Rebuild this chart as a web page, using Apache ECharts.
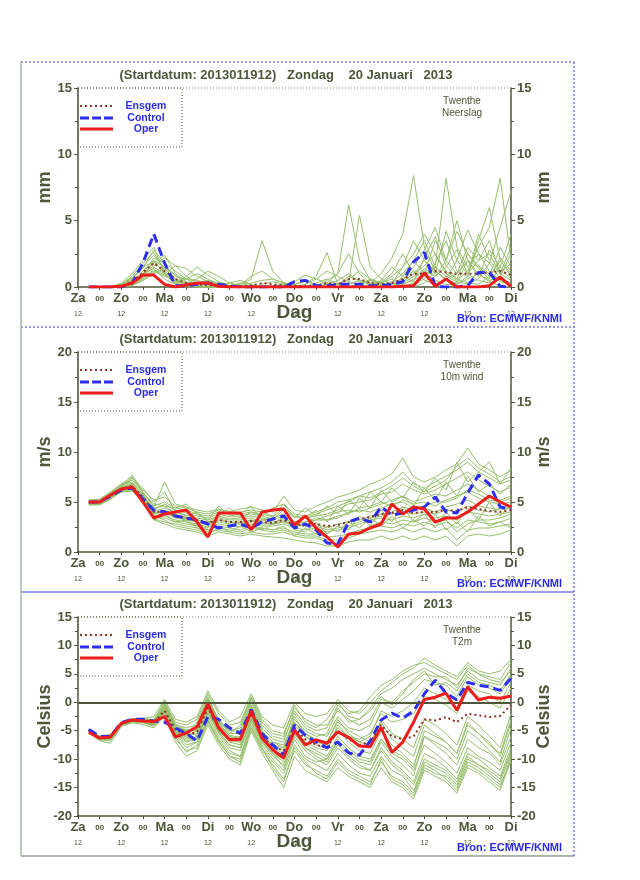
<!DOCTYPE html>
<html><head><meta charset="utf-8">
<script src="https://cdn.jsdelivr.net/npm/echarts@6/dist/echarts.min.js"></script>
<style>html,body{margin:0;padding:0;background:#fff}#c{width:640px;height:880px}</style>
</head><body><div id="c"></div>
<script>
// ---------------- DATA ----------------
const hours = [6,12,18,24,30,36,42,48,54,60,66,72,78,84,90,96,102,108,114,120,126,132,138,144,150,156,162,168,174,180,186,192,198,204,210,216,222,228,234,240];
const xTickLabels = ['Za','00','Zo','00','Ma','00','Di','00','Wo','00','Do','00','Vr','00','Za','00','Zo','00','Ma','00','Di'];
const titleText = '(Startdatum: 2013011912)   Zondag    20 Januari   2013';
const legendNames = ['Ensgem','Control','Oper'];
const sourceText = 'Bron: ECMWF/KNMI';

// Precipitation (mm)
const precipOper    = [0,0,0,0.05,0.3,0.9,0.9,0.2,0,0.15, 0.3,0.3,0.05,0,0,0,0,0,0,0, 0,0,0,0,0,0,0,0,0,0.05, 0.1,1.05,0.05,0.6,0,0,0,0.1,0.75,0.05];
const precipControl = [0,0,0,0,0.3,1.8,4.0,1.8,0.1,0.1, 0.2,0.3,0.2,0.1,0,0,0,0,0,0.4, 0.5,0.1,0.1,0.2,0.2,0.2,0.1,0.1,0.2,0.4, 1.9,2.6,0.05,0,0,0.1,1.1,1.1,0.05,0];
const precipEns     = [0,0,0,0.05,0.4,1.1,1.8,1.2,0.6,0.3, 0.2,0.15,0.1,0.05,0.05,0.1,0.3,0.2,0.1,0.1, 0.1,0.1,0.3,0.2,0.6,0.6,0.3,0.2,0.3,0.6, 1.0,1.0,1.2,1.1,1.0,1.0,1.0,1.1,1.2,0.9];
const precipMembers = [
 [0,0,0,0.2,0.8,1.8,2.6,1.2,0.4,0.2, 0.1,0,0,0,0.2,0.6,3.5,1.2,0.3,0.1, 0.1,0,0.2,0.5,1.0,0.4,0.2,0,0.3,1.5, 3.5,2.0,1.2,0.6,1.0,2.0,1.5,0.8,2.0,1.0],
 [0,0,0,0,0.3,1.2,2.0,1.5,0.8,0.6, 0.5,0.3,0.1,0,0,0,0,0.1,0.2,0.1, 0,0,0.5,1.0,6.2,2.0,0.5,0.2,0.4,1.0, 2.0,3.5,1.5,8.2,3.0,1.5,2.5,1.8,0.6,0.3],
 [0,0,0,0.1,0.5,1.0,1.6,2.2,1.6,0.8, 0.3,0.1,0,0,0.1,0.3,0.5,0.6,0.3,0.2, 0.5,0.2,0,0,0.3,5.4,1.5,0.6,0.2,0.4, 1.0,1.6,2.5,1.0,0.5,1.2,3.0,4.5,8.2,2.0],
 [0,0,0,0,0.2,0.6,1.2,0.8,0.5,0.3, 0.6,1.2,0.8,0.3,0.1,0,0,0,0,0, 0,0,0,0.2,0.8,0.5,0.3,1.0,2.2,4.0, 8.4,3.0,1.2,0.5,0.3,2.0,1.0,0.5,0.8,2.5],
 [0,0,0,0.2,0.6,1.4,2.8,1.8,0.5,0.2, 0,0,0,0,0.2,0.8,1.2,0.6,0.3,0.1, 0,0,0,0,0,0.2,0.6,0.3,0,0.5, 1.5,2.8,4.5,2.0,4.2,2.5,1.6,1.0,0.4,0.2],
 [0,0,0,0,0.1,0.8,1.5,1.0,1.6,1.4, 0.8,0.4,0.2,0.1,0,0,0,0,0.1,0.4, 0.9,0.6,1.2,0.8,0.4,0.2,0,0,0,0.3, 0.8,1.2,0.8,1.5,2.8,1.0,0.5,0.3,1.5,4.0],
 [0,0,0,0.1,0.4,0.9,1.8,2.4,1.0,0.4, 0.1,0,0,0,0,0,0,0,0,0, 0,0,0.3,1.0,2.5,1.0,0.3,0,0,0, 0.2,0.6,1.8,3.5,1.2,0.8,3.5,6.0,2.0,0.8],
 [0,0,0,0,0.2,0.8,2.0,1.0,0.3,0.6, 1.0,0.6,0.2,0,0,0,0.2,0.4,0.2,0, 0,0,0,0,0,0,0.1,0.3,0.8,1.5, 2.5,4.0,2.5,1.2,0.6,0.3,0.2,0.8,3.0,1.5],
 [0,0,0,0.3,1.0,2.0,3.0,1.0,0.2,0, 0,0,0,0.1,0.3,0.2,0,0,0,0, 0.2,0.8,2.6,0.2,0.6,1.2,0.6,0.3,0.6,0.2, 0.5,1.0,3.5,2.0,1.0,3.0,2.0,2.5,1.0,0.5],
 [0,0,0,0,0.2,0.5,1.0,1.4,0.6,0.2, 0,0,0.1,0.3,0.5,0.2,0,0,0,0, 0,0,0,0,0,0,0,0,0.3,0.6, 1.2,0.5,0.2,0.6,2.0,4.3,2.5,1.2,0.5,0.2],
 [0,0,0,0.1,0.6,1.6,2.4,1.4,0.6,0.2, 0,0,0,0,0,0,0,0,0,0.2, 0.4,0.2,0,0,0,0,0,0,0,0, 0.3,0.8,1.5,0.8,0.4,0.2,0.6,1.8,4.5,7.2],
 [0,0,0,0,0.3,1.0,1.4,0.6,0.2,0.1, 0.3,0.5,0.3,0.1,0,0,0,0,0,0, 0,0,0,0,0,0.3,0.5,0.2,0,0.8, 2.0,1.0,0.5,0.2,0.2,0.6,1.0,0.4,0.1,0],
 [0,0,0,0.1,0.4,1.0,2.2,1.8,1.2,0.6, 0.2,0,0,0,0,0,0,0,0,0, 0,0.3,0.6,0.2,0,0,0.2,0.4,1.0,2.5, 1.0,2.0,1.0,4.2,2.0,1.0,2.0,3.5,1.0,3.0],
 [0,0,0,0,0.2,0.7,1.3,0.9,0.4,0.8, 1.5,0.9,0.4,0.1,0,0,0,0,0,0, 0,0,0,0,0,0,0,0.5,1.5,0.8, 0.4,2.2,3.8,1.6,0.6,2.5,1.4,0.6,2.2,1.2],
 [0,0,0,0.2,0.7,1.5,1.9,1.1,0.3,0.1, 0,0,0,0,0,0,0,0,0,0, 0.2,0.6,0.3,0,0,0,0,0,0,0.2, 0.6,1.4,0.8,2.0,5.0,2.0,0.8,2.8,1.5,0.6],
 [0,0,0,0,0.1,0.5,1.1,1.6,0.9,0.3, 0,0,0,0,0,0,0,0,0,0, 0,0,0,0,0.2,0.5,0.3,0.1,0,0, 0,0.3,1.2,0.6,0.2,0.8,4.0,2.0,1.0,1.8]
];

// 10m wind (m/s)
const windOper    = [5.0,5.0,5.7,6.3,6.5,5.0,3.4,3.8,4.0,4.2, 3.0,1.5,3.9,3.9,3.9,2.2,4.0,4.2,4.3,2.7, 3.6,2.4,1.5,0.5,1.8,1.9,2.4,2.8,4.8,3.8, 4.5,4.3,3.0,3.4,3.4,4.0,4.8,5.6,5.0,4.5];
const windControl = [5.0,5.0,5.6,6.2,6.4,5.3,4.2,4.0,3.6,3.4, 3.2,2.8,2.4,2.6,2.8,2.4,3.0,3.3,3.6,2.4, 2.8,2.2,0.9,0.8,3.0,3.4,3.0,4.5,3.7,3.9, 4.2,4.5,5.5,4.0,3.9,5.9,7.7,6.8,4.5,4.3];
const windEns     = [5.0,5.0,5.6,6.3,6.6,5.5,4.0,4.1,3.6,3.4, 3.2,2.9,3.2,3.0,3.0,3.1,3.0,2.9,3.2,2.7, 2.8,2.8,2.6,2.7,3.0,3.3,3.5,3.8,3.9,4.2, 3.9,4.0,4.0,4.2,4.1,4.5,4.3,4.1,4.0,4.2];
const windMembers = [
 [5.0,5.1,5.8,6.6,7.7,6.0,4.5,7.0,4.8,4.5, 4.2,4.0,4.3,4.0,4.3,4.5,4.2,4.0,5.6,4.2, 4.0,4.6,5.0,5.5,5.8,6.2,6.8,7.2,7.8,9.4, 7.5,7.0,7.5,8.2,8.8,10.4,8.8,8.2,7.5,8.2],
 [4.7,4.7,5.3,6.0,6.1,5.0,3.2,2.8,2.4,2.2, 2.0,1.6,2.0,1.8,1.6,1.8,1.6,1.5,1.4,1.2, 1.0,0.9,0.6,0.6,1.0,1.2,1.2,1.6,1.2,1.6, 1.2,1.6,1.2,1.6,0.6,1.6,1.8,1.6,1.8,2.2],
 [4.9,5.0,5.6,6.3,6.6,5.6,4.0,4.0,3.6,3.5, 3.2,3.0,3.2,3.0,2.8,3.0,3.2,3.0,3.2,2.6, 2.6,2.8,2.4,2.8,3.0,3.2,3.6,3.8,4.0,4.5, 4.2,4.4,4.0,4.5,4.8,5.2,4.6,4.4,4.2,4.4],
 [5.1,5.2,5.9,6.7,7.0,5.8,4.2,4.8,4.2,3.9, 3.6,3.4,3.8,3.5,3.6,3.8,3.6,3.3,4.2,3.5, 3.4,3.6,3.8,4.2,4.8,5.0,5.2,5.8,6.0,6.8, 6.2,5.8,6.2,6.8,7.4,8.0,7.2,6.6,6.0,6.5],
 [4.8,4.8,5.4,6.1,6.3,5.2,3.5,3.4,3.0,2.8, 2.6,2.2,2.6,2.4,2.2,2.6,2.4,2.2,2.4,2.0, 1.8,1.8,1.5,1.6,1.8,2.2,2.4,2.6,2.4,2.8, 2.6,3.0,2.6,3.0,2.4,3.2,3.0,2.8,3.0,3.4],
 [5.0,5.1,5.7,6.4,6.8,5.5,3.8,4.2,3.8,3.4, 3.0,2.8,3.4,3.2,3.2,3.4,3.0,2.8,3.0,2.6, 2.8,3.2,3.6,4.0,4.2,4.0,4.4,4.8,5.2,5.6, 5.0,5.4,5.8,5.6,6.2,6.8,6.2,5.6,5.2,5.6],
 [4.9,4.9,5.5,6.2,6.5,5.4,3.7,3.6,3.2,3.0, 2.8,2.5,2.8,2.6,2.5,2.8,2.6,2.6,2.8,2.4, 2.2,2.4,2.0,2.2,2.4,2.8,3.2,3.4,3.2,3.6, 3.4,3.8,3.4,3.6,3.2,4.0,3.8,3.6,3.8,4.0],
 [5.2,5.3,6.0,6.8,7.2,6.2,5.2,5.5,4.6,4.4, 4.0,3.8,4.2,3.8,4.0,4.2,4.0,3.6,4.8,3.8, 3.6,4.0,4.4,5.0,5.2,5.6,6.0,6.4,7.0,8.0, 6.8,6.4,7.0,7.6,8.2,9.0,8.0,7.4,6.8,7.2],
 [4.8,4.9,5.4,6.0,6.2,5.0,3.3,3.0,2.8,2.6, 2.4,2.0,2.2,2.0,1.8,2.0,1.8,1.8,2.0,1.6, 1.4,1.4,1.0,0.8,1.4,1.8,2.0,2.2,2.0,2.4, 2.0,2.4,2.0,2.4,1.2,2.2,2.4,2.4,2.6,2.8],
 [5.0,5.0,5.7,6.5,6.9,5.7,4.1,4.4,4.0,3.7, 3.4,3.2,3.6,3.3,3.4,3.6,3.4,3.2,3.6,3.0, 3.0,3.2,3.2,3.6,3.8,4.4,4.6,5.0,4.6,5.2, 4.8,5.0,4.6,5.2,5.6,6.0,5.4,5.0,4.8,5.0],
 [4.9,5.0,5.6,6.4,6.7,5.6,3.9,3.9,3.4,3.2, 3.0,2.7,3.0,2.8,2.8,3.2,3.0,2.8,3.4,2.8, 2.6,2.6,2.2,2.4,2.6,3.0,3.4,3.6,3.8,4.0, 3.8,4.0,3.8,4.2,4.0,4.6,4.2,4.0,4.4,4.6],
 [5.1,5.2,5.8,6.6,7.2,6.0,4.6,5.0,4.4,4.2, 3.8,3.6,4.0,3.8,3.8,4.0,3.8,3.5,4.4,3.6, 3.4,3.8,4.2,4.6,5.0,5.6,5.4,6.0,6.6,7.4, 6.6,6.0,6.6,7.2,8.6,9.4,8.4,7.8,7.0,7.6],
 [4.8,4.8,5.3,6.1,6.4,5.3,3.6,3.2,2.6,2.4, 2.2,1.8,2.4,2.2,2.0,2.4,2.2,2.0,2.2,1.8, 1.6,1.6,1.2,1.2,1.6,2.0,2.6,3.0,2.8,3.2, 3.0,3.4,3.0,3.2,2.0,2.8,3.2,3.2,3.4,3.8],
 [5.0,5.1,5.6,6.4,6.6,5.4,4.0,3.8,3.6,3.3, 3.2,2.9,3.2,3.0,3.0,3.2,2.8,2.8,3.0,2.8, 3.0,3.4,3.2,3.4,4.0,4.2,4.0,4.4,4.8,5.0, 4.4,4.6,5.0,5.0,5.4,6.2,5.8,5.2,5.0,5.4],
 [5.0,5.0,5.6,6.5,7.4,6.4,5.0,6.0,4.0,3.6, 4.0,3.0,3.6,4.4,3.4,4.0,3.6,4.4,4.8,3.4, 4.4,3.6,4.6,3.8,5.2,4.4,6.0,5.0,6.4,5.4, 7.0,6.0,7.4,6.2,9.0,7.0,8.0,9.0,6.8,8.4],
 [4.9,5.0,5.5,6.2,6.3,5.6,4.4,4.6,3.8,3.0, 2.6,2.4,3.6,2.6,3.0,2.6,2.2,2.8,3.6,2.2, 2.0,3.0,1.8,2.6,2.2,3.6,2.6,4.2,3.0,4.6, 3.0,3.8,2.4,4.0,2.8,4.4,3.2,5.0,3.6,4.8],
 [5.1,5.1,5.9,6.8,7.5,5.9,4.8,4.6,4.4,4.8, 3.8,3.2,4.6,3.6,3.8,4.6,3.2,3.4,3.8,3.0, 3.4,4.2,3.0,4.6,3.8,5.4,4.4,6.2,5.0,5.6, 4.6,6.4,5.2,7.0,5.6,7.6,6.0,6.8,5.8,6.8],
 [4.8,4.8,5.5,6.1,6.5,5.2,3.6,3.8,3.0,3.2, 2.4,2.2,2.6,2.0,2.6,2.0,2.4,2.2,2.6,1.6, 2.4,1.8,2.6,2.0,3.0,2.4,3.4,2.6,3.6,2.4, 3.2,2.6,3.8,2.2,3.0,2.0,3.6,2.6,3.0,2.4]
];

// 2m temperature (Celsius)
const tempOper    = [-5.3,-6.3,-6.1,-3.7,-3.1,-3.3,-3.4,-2.5,-6.1,-5.4, -4.3,-0.3,-4.5,-6.6,-6.5,-1.5,-6.3,-8.4,-9.8,-4.9, -7.5,-6.6,-7.2,-5.2,-6.2,-7.7,-7.8,-4.4,-8.8,-7.0, -3.5,0.5,0.9,1.6,-1.4,2.7,0.4,0.9,0.7,1.1];
const tempControl = [-4.8,-6.0,-6.0,-3.6,-3.0,-3.0,-3.3,-3.5,-4.5,-5.5, -6.8,-2.5,-3.0,-4.5,-5.5,-1.3,-5.5,-7.5,-9.3,-4.0, -5.8,-7.0,-8.0,-7.0,-8.9,-9.3,-6.8,-3.1,-1.9,-2.8, -1.5,1.5,3.9,1.6,0.4,3.5,3.0,2.7,2.1,4.2];
const tempEns     = [-5.0,-6.2,-6.1,-3.8,-3.2,-3.2,-3.6,-1.5,-4.8,-5.8, -5.2,-1.0,-4.5,-6.5,-6.5,-2.0,-6.0,-7.8,-8.5,-4.5, -6.5,-7.5,-8.0,-5.0,-6.5,-7.5,-7.0,-4.0,-6.0,-6.5, -6.0,-3.0,-3.2,-2.6,-3.5,-2.0,-2.3,-2.6,-2.4,-0.5];
const tempMembers = [
 [-4.8,-6.0,-5.6,-3.4,-2.9,-2.8,-2.5,0.5,-3.0,-3.5, -2.5,2.0,-1.5,-3.5,-2.5,1.5,-2.5,-4.0,-4.5,0.0, -2.0,-2.5,-2.0,0.5,-1.5,-2.0,0.0,2.0,3.5,5.0, 6.0,7.8,6.5,5.5,4.5,7.0,5.5,5.0,5.5,7.5],
 [-5.3,-6.8,-7.2,-4.3,-3.6,-3.9,-4.5,-2.5,-7.0,-9.5, -8.5,-4.0,-7.5,-10.0,-11.0,-5.0,-9.0,-12.0,-15.0,-9.5, -12.0,-13.0,-14.0,-11.5,-13.0,-14.0,-15.0,-11.5,-14.0,-15.0, -17.0,-12.0,-13.0,-14.0,-16.0,-11.5,-12.5,-14.0,-15.5,-10.0],
 [-5.0,-6.2,-6.0,-3.7,-3.2,-3.2,-3.8,-1.0,-5.0,-6.0, -5.0,-0.5,-4.5,-6.5,-6.0,-1.0,-5.5,-8.0,-9.0,-4.0, -6.0,-7.5,-8.0,-5.0,-7.0,-8.5,-9.0,-5.0,-7.5,-9.0, -11.0,-6.0,-7.5,-9.0,-11.0,-6.5,-8.0,-9.0,-11.0,-6.0],
 [-4.9,-6.1,-5.8,-3.6,-3.0,-3.0,-3.2,-0.5,-4.0,-4.5, -4.0,0.5,-3.0,-5.0,-4.5,0.5,-4.0,-6.0,-6.5,-2.0, -4.5,-5.5,-6.0,-2.5,-4.5,-5.0,-4.0,0.0,-1.0,0.5, 2.0,4.0,3.5,3.0,1.0,4.5,3.0,2.5,1.5,4.5],
 [-5.1,-6.4,-6.4,-3.9,-3.3,-3.4,-4.0,-2.0,-5.5,-7.0, -6.5,-2.0,-5.5,-8.0,-8.5,-3.0,-7.0,-9.5,-11.0,-6.0, -8.5,-10.0,-11.0,-8.0,-10.0,-11.5,-12.0,-8.0,-10.5,-12.0, -14.0,-9.0,-10.0,-11.5,-13.5,-9.0,-10.0,-11.5,-13.0,-8.0],
 [-5.0,-6.3,-6.1,-3.8,-3.1,-3.1,-3.5,-1.5,-4.5,-5.5, -3.5,1.0,-3.5,-6.0,-7.0,-1.5,-6.0,-7.5,-8.0,-3.0, -5.0,-6.0,-5.5,-1.0,-3.5,-3.0,-1.0,1.5,2.5,4.0, 5.0,6.0,5.0,4.0,3.0,5.5,4.0,3.5,3.0,6.0],
 [-4.9,-6.2,-6.2,-3.8,-3.2,-3.3,-3.7,-1.2,-5.2,-6.5, -6.0,-1.5,-5.0,-7.0,-7.5,-2.0,-6.5,-8.5,-10.0,-5.0, -7.5,-8.5,-9.5,-6.0,-8.0,-9.5,-10.0,-6.5,-9.0,-10.0, -12.0,-7.5,-9.0,-10.5,-12.5,-8.0,-9.5,-10.5,-12.0,-7.0],
 [-5.2,-6.5,-6.6,-4.0,-3.4,-3.5,-3.9,-1.8,-5.8,-8.0, -7.0,-3.0,-6.5,-9.0,-9.5,-4.0,-8.0,-10.5,-12.5,-7.5, -10.0,-11.0,-12.0,-9.0,-11.0,-12.5,-13.0,-9.5,-12.0,-13.0, -15.5,-10.5,-11.5,-12.5,-14.5,-10.0,-11.0,-12.5,-14.0,-9.0],
 [-4.8,-6.0,-5.7,-3.5,-3.0,-2.9,-3.0,0.0,-3.5,-4.0, -3.0,1.5,-2.0,-4.0,-3.5,1.0,-3.0,-5.0,-5.5,-1.0, -3.0,-4.0,-4.0,-1.5,-3.0,-4.0,-3.0,0.5,0.0,2.0, 3.5,5.0,4.5,4.5,2.5,6.0,5.0,4.0,3.5,5.5],
 [-5.0,-6.3,-6.3,-3.8,-3.2,-3.2,-3.6,-1.0,-4.8,-5.8, -5.5,-1.0,-4.8,-6.8,-7.0,-2.5,-7.0,-9.0,-10.5,-4.5, -7.0,-8.0,-8.5,-4.0,-6.0,-6.5,-5.5,-2.0,-3.5,-3.0, -2.0,1.0,0.5,-0.5,-2.0,2.0,1.0,0.0,-1.0,2.5],
 [-5.1,-6.3,-6.0,-3.7,-3.1,-3.1,-3.4,-0.8,-4.2,-5.0, -4.5,0.0,-4.0,-5.5,-5.5,-0.5,-5.0,-7.0,-7.5,-3.5, -5.5,-7.0,-7.0,-3.0,-5.5,-7.0,-7.5,-3.0,-5.5,-6.5, -8.0,-3.0,-4.0,-5.5,-7.5,-2.5,-4.0,-6.0,-8.0,-2.0],
 [-5.0,-6.1,-6.2,-3.9,-3.3,-3.3,-3.8,-1.5,-5.5,-7.5, -7.0,-2.5,-6.0,-8.5,-9.5,-3.5,-7.5,-10.0,-12.0,-6.5, -9.5,-10.5,-10.0,-7.0,-9.0,-10.5,-11.0,-7.0,-9.5,-11.0, -13.0,-6.0,-7.0,-8.0,-10.0,-5.0,-6.5,-8.5,-10.5,-4.5],
 [-4.9,-6.1,-6.0,-3.6,-3.0,-3.0,-3.3,-0.3,-3.8,-5.0, -5.0,0.5,-3.5,-5.0,-5.0,0.0,-4.5,-6.5,-7.0,-1.5, -4.0,-5.0,-4.5,-0.5,-2.0,-1.5,1.0,3.0,4.0,5.5, 6.5,7.0,6.0,5.0,4.0,6.5,5.0,4.5,4.0,7.0],
 [-5.2,-6.6,-6.8,-4.1,-3.5,-3.6,-4.2,-2.2,-6.5,-8.5, -8.0,-3.5,-7.0,-9.5,-10.5,-4.5,-8.5,-11.0,-13.5,-8.5, -11.0,-12.0,-13.0,-10.0,-12.0,-13.0,-14.0,-10.5,-13.0,-14.0, -16.0,-11.0,-12.0,-13.5,-15.5,-11.0,-12.0,-13.5,-15.0,-9.5],
 [-5.0,-6.2,-6.1,-3.8,-3.2,-3.2,-3.6,-1.2,-4.6,-5.5, -4.2,0.5,-3.8,-6.0,-6.5,-1.0,-5.5,-7.5,-8.5,-3.5, -6.0,-7.0,-7.5,-4.5,-6.0,-7.0,-6.0,-1.5,-2.5,-1.5, 0.0,2.5,1.5,0.5,-1.0,3.0,2.0,1.5,0.0,3.5],
 [-4.9,-6.2,-6.3,-3.9,-3.3,-3.4,-3.8,-1.6,-5.3,-6.8, -6.2,-1.8,-5.2,-7.5,-8.0,-2.8,-7.0,-9.0,-10.0,-5.5, -8.0,-9.0,-10.0,-6.5,-8.5,-10.0,-10.5,-6.5,-8.5,-9.5, -11.5,-5.0,-6.0,-7.0,-9.0,-4.0,-5.5,-7.0,-9.5,-3.5],
 [-5.0,-6.1,-5.9,-3.6,-3.0,-3.1,-3.3,0.2,-4.4,-4.8, -4.8,0.8,-3.2,-5.5,-4.0,0.8,-3.5,-5.5,-6.0,-0.5, -3.5,-4.5,-3.0,0.0,-2.5,-3.0,-1.5,1.0,-0.5,1.5, 4.0,5.5,3.0,3.5,2.0,5.0,3.5,3.0,2.0,5.0],
 [-5.1,-6.5,-6.5,-4.0,-3.4,-3.5,-4.1,-2.4,-6.0,-8.8, -7.5,-3.2,-6.8,-9.5,-10.0,-4.5,-8.0,-11.5,-14.0,-8.0, -10.5,-12.5,-13.5,-10.5,-12.5,-13.5,-14.5,-10.0,-13.5,-14.5, -16.5,-11.5,-12.5,-13.0,-15.0,-10.5,-11.5,-13.0,-14.5,-10.5],
 [-4.9,-6.0,-6.2,-3.7,-3.1,-3.2,-3.5,-0.6,-4.4,-5.2, -5.8,-0.2,-4.2,-5.8,-6.2,-0.8,-5.0,-7.0,-8.0,-2.5, -5.5,-6.5,-7.0,-3.5,-5.0,-6.0,-7.0,-3.5,-6.5,-8.0, -9.5,-4.0,-5.5,-7.0,-9.0,-3.5,-5.5,-7.5,-9.0,-3.0],
 [-5.1,-6.4,-6.2,-3.9,-3.3,-3.3,-3.9,-1.6,-5.2,-6.2, -6.5,-1.2,-5.2,-7.5,-8.0,-3.0,-6.8,-9.0,-11.5,-5.5, -8.0,-9.5,-10.5,-7.5,-9.5,-11.0,-12.0,-8.5,-11.0,-12.5, -14.5,-10.0,-11.0,-12.0,-14.0,-9.5,-11.0,-12.0,-13.5,-8.5]
];

// ---------------- STYLE / LAYOUT ----------------
const FONT = '"Liberation Sans", Arial, sans-serif';
const INK = '#4d5638';
const BLUE = '#2b2be6';
const MEMBER = '#97bf6c';
const ENS = '#8a3526';
const CTRL = '#2e2ef0';
const OPER = '#ee1d1d';
const GL = 78, GW = 433;

const panels = [
  {top:88,  height:199, min:0,   max:15, name:'mm',      members:precipMembers, ens:precipEns, ctrl:precipControl, oper:precipOper, loc:['Twenthe','Neerslag'], zero:false},
  {top:352, height:200, min:0,   max:20, name:'m/s',     members:windMembers,   ens:windEns,   ctrl:windControl,   oper:windOper,   loc:['Twenthe','10m wind'], zero:false},
  {top:617, height:199, min:-20, max:15, name:'Celsius', members:tempMembers,   ens:tempEns,   ctrl:tempControl,   oper:tempOper,   loc:['Twenthe','T2m'],      zero:true}
];

const pair = arr => hours.map((h,i)=>[h, arr[i]]);
const grids=[], xAxes=[], yAxes=[], series=[], graphics=[];

function yAxisCfg(k, p, pos){
  return {
    gridIndex:k, type:'value', position:pos, min:p.min, max:p.max, interval:5,
    name:p.name, nameLocation:'middle', nameGap:24, nameRotate:90, nameMoveOverlap:false,
    nameTextStyle:{fontFamily:FONT, fontSize:18, fontWeight:'bold', color:INK},
    axisLine:{show:true, onZero:false, lineStyle:{color:INK, width:1.5}},
    axisTick:{show:true, length:4, lineStyle:{color:INK}},
    minorTick:{show:true, splitNumber:2, length:3, lineStyle:{color:INK}},
    splitLine:{show:false},
    axisLabel:{margin:6, fontFamily:FONT, fontSize:13, fontWeight:'bold', color:INK}
  };
}

panels.forEach((p,k)=>{
  grids.push({left:GL, top:p.top, width:GW, height:p.height});
  xAxes.push({
    gridIndex:k, type:'value', min:0, max:240, interval:12,
    name:'Dag', nameLocation:'middle', nameGap:16, nameMoveOverlap:false,
    nameTextStyle:{fontFamily:FONT, fontSize:19, fontWeight:'bold', color:INK},
    axisLine:{onZero:false, lineStyle:{color:INK, width:1.5}},
    axisTick:{length:3, lineStyle:{color:INK}},
    splitLine:{show:false},
    axisLabel:{
      margin:4, showMaxLabel:true, showMinLabel:true,
      formatter: v => { const l = xTickLabels[Math.round(v/12)]; return l==='00' ? '{z|00}' : '{d|'+l+'}\n{s|12}'; },
      rich:{
        d:{fontFamily:FONT, fontSize:13, fontWeight:'bold', color:INK, lineHeight:15},
        s:{fontFamily:FONT, fontSize:7, color:INK, lineHeight:17},
        z:{fontFamily:FONT, fontSize:8, fontWeight:'bold', color:INK, lineHeight:15}
      }
    }
  });
  yAxes.push(yAxisCfg(k,p,'left'));
  yAxes.push(yAxisCfg(k,p,'right'));
  const yi = 2*k;
  p.members.forEach((m)=>{
    series.push({type:'line', xAxisIndex:k, yAxisIndex:yi, data:pair(m), showSymbol:false, silent:true,
      lineStyle:{color:MEMBER, width:1}, z:2});
  });
  const ensS = {type:'line', xAxisIndex:k, yAxisIndex:yi, data:pair(p.ens), showSymbol:false, silent:true,
      lineStyle:{color:ENS, width:2, type:[2,3]}, z:3};
  if (p.zero) ensS.markLine = {silent:true, symbol:'none', label:{show:false}, data:[{yAxis:0}],
      lineStyle:{color:INK, width:2, type:'solid'}};
  series.push(ensS);
  series.push({type:'line', xAxisIndex:k, yAxisIndex:yi, data:pair(p.ctrl), showSymbol:false, silent:true,
      lineStyle:{color:CTRL, width:3, type:[9,5]}, z:4});
  series.push({type:'line', xAxisIndex:k, yAxisIndex:yi, data:pair(p.oper), showSymbol:false, silent:true,
      lineStyle:{color:OPER, width:3}, z:5});

  const t = p.top, b = p.top + p.height;
  graphics.push({type:'text', x:286, y:t-13, z:20, style:{text:titleText, fontFamily:FONT, fontSize:13, fontWeight:'bold', fill:INK, align:'center', verticalAlign:'middle', textAlign:'center', textVerticalAlign:'middle'}});
  graphics.push({type:'line', z:20, shape:{x1:GL, y1:t, x2:GL+GW, y2:t}, style:{stroke:'#7f8a72', lineWidth:1, lineDash:[1,2]}});
  graphics.push({type:'rect', z:20, shape:{x:GL, y:t, width:104, height:59}, style:{fill:null, stroke:INK, lineWidth:1, lineDash:[1,2]}});
  const ly = [t+18, t+30, t+41];
  graphics.push({type:'line', z:21, shape:{x1:80, y1:ly[0], x2:113, y2:ly[0]}, style:{stroke:ENS, lineWidth:2, lineDash:[2,3]}});
  graphics.push({type:'line', z:21, shape:{x1:80, y1:ly[1], x2:113, y2:ly[1]}, style:{stroke:CTRL, lineWidth:3, lineDash:[9,3]}});
  graphics.push({type:'line', z:21, shape:{x1:80, y1:ly[2], x2:113, y2:ly[2]}, style:{stroke:OPER, lineWidth:3}});
  legendNames.forEach((n,i)=>{
    graphics.push({type:'text', x:146, y:ly[i], z:21, style:{text:n, fontFamily:FONT, fontSize:10.5, fontWeight:'bold', fill:BLUE, align:'center', verticalAlign:'middle', textAlign:'center', textVerticalAlign:'middle'}});
  });
  p.loc.forEach((s,i)=>{
    graphics.push({type:'text', x:462, y:t+13+12*i, z:21, style:{text:s, fontFamily:FONT, fontSize:10, fill:INK, align:'center', verticalAlign:'middle', textAlign:'center', textVerticalAlign:'middle'}});
  });
  graphics.push({type:'text', x:457, y:b+32, z:21, style:{text:sourceText, fontFamily:FONT, fontSize:11, fontWeight:'bold', fill:BLUE, align:'left', verticalAlign:'middle', textAlign:'left', textVerticalAlign:'middle'}});
});

graphics.push({type:'line', z:30, shape:{x1:21,y1:62,x2:574,y2:62}, style:{stroke:'#3a3af0', lineWidth:1, lineDash:[2,2]}});
graphics.push({type:'line', z:30, shape:{x1:21,y1:327,x2:574,y2:327}, style:{stroke:'#3a3af0', lineWidth:1, lineDash:[2,2]}});
graphics.push({type:'line', z:30, shape:{x1:21,y1:592,x2:574,y2:592}, style:{stroke:'#3a3af0', lineWidth:1}});
graphics.push({type:'line', z:30, shape:{x1:21,y1:856,x2:574,y2:856}, style:{stroke:'#a9b5a9', lineWidth:2}});
graphics.push({type:'line', z:30, shape:{x1:21,y1:62,x2:21,y2:856}, style:{stroke:'#a9b5a9', lineWidth:1.5}});
graphics.push({type:'line', z:30, shape:{x1:574,y1:62,x2:574,y2:856}, style:{stroke:'#3a3af0', lineWidth:1, lineDash:[2,2]}});

const chart = echarts.init(document.getElementById('c'), null, {renderer:'canvas'});
chart.setOption({
  animation:false,
  backgroundColor:'#ffffff',
  grid:grids, xAxis:xAxes, yAxis:yAxes, series:series, graphic:graphics
});
</script></body></html>
